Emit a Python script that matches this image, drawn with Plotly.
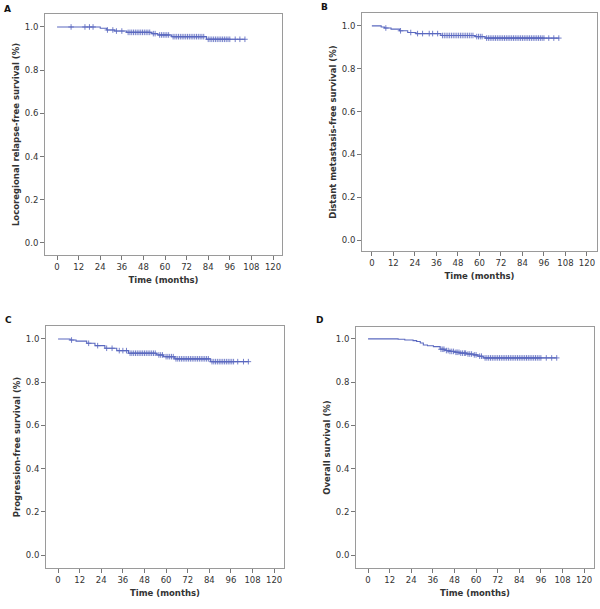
import numpy as np
import plotly.graph_objects as go

# ---------------- data ----------------
x_ticks = [0, 12, 24, 36, 48, 60, 72, 84, 96, 108, 120]
y_ticks = [0.0, 0.2, 0.4, 0.6, 0.8, 1.0]

panel_letters = ["A", "B", "C", "D"]
y_titles = [
    "Locoregional relapse-free survival (%)",
    "Distant metastasis-free survival (%)",
    "Progression-free survival (%)",
    "Overall survival (%)",
]
x_title = "Time (months)"

# Panel A - locoregional relapse-free survival
A_event_t = [24, 27.6, 32, 38.7, 52.6, 56, 63.7, 83]
A_surv = [0.994, 0.986, 0.981, 0.975, 0.969, 0.963, 0.955, 0.943]
A_censor = [7.8, 15.5, 18, 20, 28, 31, 33, 36,
            39.5, 40.5, 41.5, 42.5, 43.5, 44.5, 45.5, 46.5, 47.5, 48.5, 49.5, 50.5, 51.5,
            53.5, 54.5, 57, 58, 59, 60, 61, 62,
            64.5, 65.5, 66.5, 67.5, 68.5, 69.5, 70.5, 71.5, 72.5, 73.5, 74.5, 75.5,
            76.5, 77.5, 78.5, 79.5, 80.5, 81.5,
            84, 85, 86, 87, 88, 89, 90, 91, 92, 93, 94, 95, 96,
            99, 101.6, 104.4]
A_end = 104.4

# Panel B - distant metastasis-free survival
B_event_t = [5.2, 7, 10.7, 15.4, 20, 24.6, 38.5, 57.6, 63.2]
B_surv = [0.995, 0.99, 0.985, 0.977, 0.969, 0.964, 0.955, 0.950, 0.943]
B_censor = [7.8, 16, 21.7, 25.5, 28.3, 32, 33.9, 36.7,
            39.4, 40.4, 41.4, 42.4, 43.4, 44.4, 45.4, 46.4, 47.4, 48.4, 49.4, 50.4,
            51.4, 52.4, 53.4, 54.4, 55.4, 56.4, 58.5, 59.5, 60.5, 61.5,
            64, 65, 66, 67, 68, 69, 70, 71, 72, 73, 74, 75, 76, 77, 78, 79, 80,
            81, 82, 83, 84, 85, 86, 87, 88, 89, 90, 91, 92, 93, 94, 95, 96,
            98.7, 101.5, 104.3]
B_end = 104.3

# Panel C - progression-free survival
C_event_t = [6.7, 10, 15.9, 20.5, 26, 32.6, 39.1, 54.8, 58.5, 64.8, 84.6]
C_surv = [0.995, 0.99, 0.98, 0.969, 0.957, 0.946, 0.934, 0.926, 0.918, 0.908, 0.895]
C_censor = [7.5, 17, 22, 27, 30, 34, 36, 38,
            40, 41, 42, 43, 44, 45, 46, 47, 48, 49, 50, 51, 52, 53, 54,
            56, 57, 58, 60, 61, 62, 63, 64,
            65.5, 66.5, 67.5, 68.5, 69.5, 70.5, 71.5, 72.5, 73.5, 74.5, 75.5,
            76.5, 77.5, 78.5, 79.5, 80.5, 81.5, 82.5, 83.5,
            85.5, 86.5, 87.5, 88.5, 89.5, 90.5, 91.5, 92.5, 93.5, 94.5, 95.5, 96.5, 97.5,
            99.8, 103, 105.7]
C_end = 105.7

# Panel D - overall survival
D_event_t = [16.7, 20.4, 25, 27, 29, 30.7, 33, 36.3, 40, 42.8, 45, 48.3,
             51, 54.8, 58.5, 61, 64]
D_surv = [0.998, 0.995, 0.992, 0.988, 0.981, 0.972, 0.968, 0.964, 0.952, 0.946,
          0.942, 0.938, 0.934, 0.930, 0.926, 0.920, 0.912]
D_censor = [40.5, 41.5, 42.2, 43.5, 44.5, 45.5, 46.5, 47.5, 48.8, 49.5, 50.5,
            51.5, 52.5, 53.5, 54.2, 55.5, 56.5, 57.5, 59, 60, 62, 63,
            65, 66, 67, 68, 69, 70, 71, 72, 73, 74, 75, 76, 77, 78, 79, 80,
            81, 82, 83, 84, 85, 86, 87, 88, 89, 90, 91, 92, 93, 94, 95, 96,
            99, 102, 104.8]
D_end = 104.8

panels = [
    (A_event_t, A_surv, A_censor, A_end),
    (B_event_t, B_surv, B_censor, B_end),
    (C_event_t, C_surv, C_censor, C_end),
    (D_event_t, D_surv, D_censor, D_end),
]

# ---------------- layout geometry ----------------
W, H = 600, 609
boxes = [  # (left, right, top, bottom) in pixels
    (45, 282, 14, 255),
    (362, 597, 13, 251),
    (46, 284, 326, 568),
    (356, 594, 327, 568),
]
x_ranges = [[-6.7, 125], [-5.5, 125.6], [-6.7, 125.5], [-6.7, 125.5]]
y_ranges = [[-0.056, 1.06], [-0.05, 1.06], [-0.06, 1.06], [-0.06, 1.055]]
letter_pos = [(7, 9), (324, 7), (8, 320), (319, 320)]

LINE = "#5b69c0"
AX = "#9a9a9a"
TXT = "#333333"
FONT = "DejaVu Sans"

fig = go.Figure()
for i, (et, sv, cens, end) in enumerate(panels):
    ax = "" if i == 0 else str(i + 1)
    xs = [0] + list(et) + [end]
    ys = [1.0] + list(sv) + [sv[-1]]
    fig.add_trace(go.Scatter(
        x=xs, y=ys, mode="lines", line=dict(color=LINE, width=1.1, shape="hv"),
        xaxis="x" + ax, yaxis="y" + ax, showlegend=False, hoverinfo="skip"))
    et_arr = np.array(et)
    sv_arr = np.array([1.0] + list(sv))
    cy = [sv_arr[np.searchsorted(et_arr, c, side="right")] for c in cens]
    fig.add_trace(go.Scatter(
        x=cens, y=cy, mode="markers",
        marker=dict(symbol="cross-thin", size=4,
                    line=dict(color="rgba(91,105,192,0.85)", width=1)),
        xaxis="x" + ax, yaxis="y" + ax, showlegend=False, hoverinfo="skip"))

    l, r, t, b = boxes[i]
    common = dict(showline=True, linecolor=AX, linewidth=1, mirror=True,
                  ticks="outside", ticklen=4, tickcolor="#777777", tickwidth=1,
                  showgrid=False, zeroline=False, automargin=False,
                  tickfont=dict(family=FONT, size=8.5, color=TXT))
    fig.update_layout(**{
        "xaxis" + ax: dict(
            domain=[l / W, r / W], anchor="y" + ax, range=x_ranges[i],
            tickvals=x_ticks,
            title=dict(text=x_title, standoff=5,
                       font=dict(family=FONT, size=8.5, color=TXT, weight="bold")),
            **common),
        "yaxis" + ax: dict(
            domain=[1 - b / H, 1 - t / H], anchor="x" + ax, range=y_ranges[i],
            tickvals=y_ticks, tickformat=".1f",
            title=dict(text=y_titles[i], standoff=3,
                       font=dict(family=FONT, size=8.5, color=TXT, weight="bold")),
            **common),
    })
    lx, ly = letter_pos[i]
    fig.add_annotation(x=lx / W, y=1 - ly / H, xref="paper", yref="paper",
                       text="<b>%s</b>" % panel_letters[i], showarrow=False,
                       xanchor="center", yanchor="middle",
                       font=dict(family=FONT, size=9, color="#111111"))

fig.update_layout(width=W, height=H, margin=dict(l=0, r=0, t=0, b=0),
                  paper_bgcolor="white", plot_bgcolor="white")
fig.write_html("out.html",
               config={"displayModeBar": False},
               post_script="document.body.style.margin='0';document.body.style.padding='0';")
